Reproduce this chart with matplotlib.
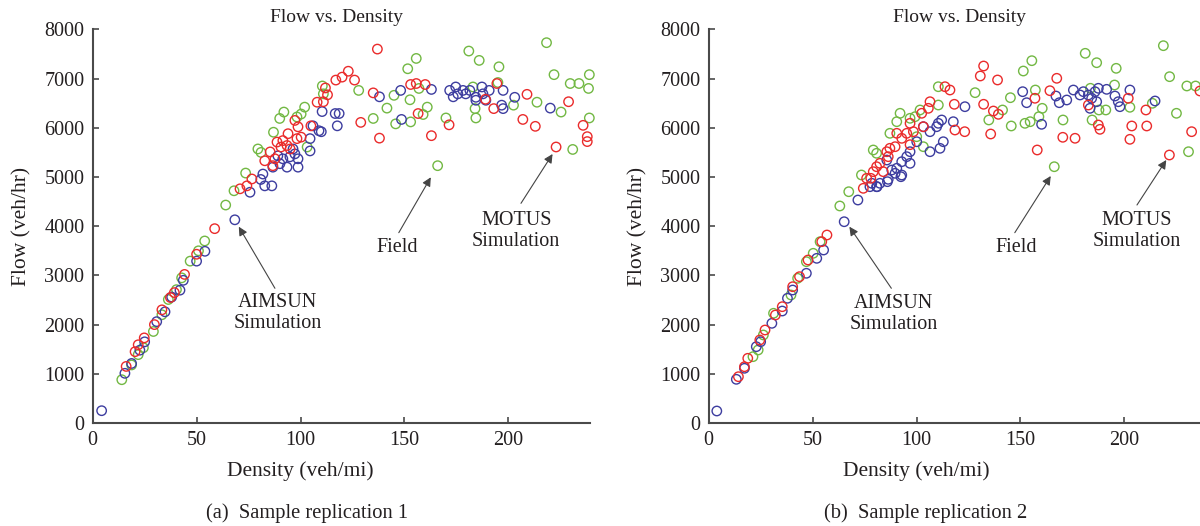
import matplotlib
matplotlib.use("Agg")
import matplotlib.pyplot as plt

plt.rcParams["font.family"] = ["Liberation Serif", "DejaVu Serif"]

# ---------------- data: panel (a) ----------------
field_x_a = [14, 18.7, 21.9, 24.4, 29.2, 33.3, 36.4, 40.3, 42.8, 46.9,
             50.9, 53.9, 64, 68, 73.6, 79.5, 81, 87, 90, 92,
             98.3, 100.3, 102, 103.2, 110.5, 111, 128, 135, 141.6, 145,
             145.8, 151.6, 152.7, 153, 155.7, 157, 159, 161, 166, 170,
             181, 183, 184, 184.4, 186, 195, 195.5, 202.5, 213.8, 218.4,
             222, 225.4, 229.8, 231, 234, 238.6, 239, 239]
field_y_a = [880, 1180, 1390, 1530, 1860, 2200, 2510, 2710, 2950, 3290,
             3500, 3700, 4430, 4720, 5080, 5570, 5500, 5910, 6190, 6320,
             6220, 6280, 6420, 5610, 6850, 6690, 6760, 6190, 6400, 6660,
             6080, 7200, 6570, 6120, 7410, 6800, 6270, 6420, 5230, 6200,
             7560, 6830, 6390, 6200, 7370, 6920, 7240, 6460, 6520, 7730,
             7080, 6320, 6900, 5560, 6900, 6800, 7080, 6200]

aimsun_x_a = [4.3, 15.5, 18.7, 22.7, 25, 30.8, 34.8, 38, 42, 43.6,
              50, 54, 68.4, 75.7, 80.9, 81.9, 82.8, 86.2, 86.7, 89.1,
              90.1, 91.5, 93.5, 94.9, 96.4, 97.3, 98.8, 98.8, 104.6, 104.6,
              106, 108.9, 110, 110.4, 116.7, 118.6, 117.7, 138, 148.2, 148.6,
              163, 171.8, 173.5, 174.7, 175.7, 178.2, 179.5, 181.5, 184.4, 184.4,
              187.3, 187.8, 189.2, 190.8, 196.8, 197.5, 197.5, 203.1, 220.2]
aimsun_y_a = [250, 1010, 1210, 1480, 1650, 2060, 2260, 2560, 2700, 2900,
              3290, 3490, 4130, 4690, 4950, 5060, 4820, 4820, 5200, 5430,
              5270, 5370, 5200, 5410, 5570, 5470, 5200, 5370, 5530, 5780,
              6040, 5940, 5920, 6330, 6290, 6290, 6040, 6630, 6760, 6170,
              6780, 6760, 6630, 6830, 6690, 6760, 6690, 6760, 6620, 6560,
              6830, 6690, 6560, 6760, 6460, 6760, 6390, 6620, 6400]

motus_x_a = [16.1, 20.4, 21.9, 24.8, 29.7, 33.3, 37.4, 39.3, 44.2, 50,
             58.7, 70.9, 74.2, 76.6, 82.8, 85.4, 86.7, 87.7, 88.7, 90.6,
             91.5, 93.5, 94, 95, 97.3, 98.3, 98.8, 100.3, 105, 108,
             111, 112, 113, 117, 120, 123, 126, 129, 135, 137,
             138, 153, 155.7, 156.6, 160, 163, 171.5, 189, 193, 194.5,
             207, 209, 213, 223, 229, 236, 238, 238]
motus_y_a = [1150, 1450, 1590, 1730, 2000, 2300, 2550, 2650, 3020, 3430,
             3950, 4760, 4820, 4960, 5330, 5510, 5230, 5370, 5710, 5610,
             5740, 5640, 5880, 5570, 6150, 5780, 6020, 5810, 6040, 6520,
             6530, 6810, 6670, 6970, 7030, 7150, 6970, 6110, 6710, 7600,
             5790, 6880, 6900, 6290, 6880, 5840, 6060, 6580, 6390, 6900,
             6170, 6680, 6030, 5610, 6530, 6050, 5820, 5720]

# ---------------- data: panel (b) ----------------
field_x_b = [21.3, 23.8, 26.3, 31.2, 39.6, 42.8, 47, 50.3, 53.6, 63.1,
             67.4, 73.5, 79.2, 80.8, 87.2, 90.5, 92.1, 96.9, 99.3, 100.1,
             101.7, 103.3, 110.5, 110.5, 128.2, 134.8, 141.4, 145.2, 145.6, 151.4,
             152.2, 154.7, 155.5, 157.2, 158.9, 160.5, 166.3, 170.5, 181.2, 183.7,
             184.5, 186.7, 187.8, 191.1, 195.3, 196.1, 202.7, 213.5, 218.8, 221.8,
             225.1, 230.1, 230.9, 234.3]
field_y_b = [1348, 1484, 1789, 2230, 2602, 2941, 3279, 3449, 3685, 4411,
             4701, 5041, 5549, 5482, 5888, 6124, 6295, 6193, 6226, 5819,
             6362, 5616, 6463, 6835, 6714, 6159, 6362, 6612, 6037, 7154,
             6091, 6124, 7364, 6768, 6226, 6396, 5209, 6159, 7514, 6803,
             6159, 7323, 6362, 6362, 6870, 7209, 6417, 6498, 7669, 7039,
             6295, 6850, 5514, 6850]

aimsun_x_b = [3.9, 13.3, 17.2, 22.9, 25, 30.4, 35.4, 37.9, 40.4, 47,
              52, 55.3, 65.2, 71.8, 77.6, 78.5, 80.8, 81, 82.4, 85.7,
              86, 86.4, 88.1, 89.7, 90.5, 92.5, 92.9, 92.9, 95.3, 96.9,
              96.9, 100.1, 103.3, 106.5, 106.5, 109.7, 110.5, 111.3, 112.1, 112.9,
              117.7, 123.3, 151.1, 153, 160.2, 167.1, 168.7, 172.3, 175.5, 178.7,
              180.3, 182.7, 183.5, 184.3, 185.9, 186.7, 187.5, 191.5, 195.5, 197.1,
              197.9, 202.7, 214.8]
aimsun_y_b = [244, 888, 1112, 1551, 1652, 2026, 2276, 2535, 2703, 3043,
              3347, 3516, 4091, 4532, 4803, 4872, 4803, 4803, 4872, 5345,
              4905, 4953, 5142, 5075, 5177, 5006, 5040, 5311, 5413, 5514,
              5278, 5717, 6022, 5921, 5514, 6022, 6091, 5583, 6159, 5717,
              6124, 6429, 6734, 6510, 6071, 6646, 6510, 6565, 6768, 6667,
              6734, 6667, 6396, 6600, 6734, 6530, 6803, 6782, 6646, 6530,
              6429, 6768, 6545]

motus_x_b = [14.3, 17.2, 18.8, 24.6, 27.1, 32.1, 35.4, 40.4, 43.7, 47.8,
             54.4, 56.9, 74.4, 76, 78, 79.2, 80.8, 82.4, 84, 85.7,
             86.4, 87.2, 89.7, 90.5, 92.9, 95.3, 96.9, 96.9, 98.5, 102.5,
             103.3, 105.7, 106.5, 113.7, 116.1, 118.2, 118.5, 123.2, 130.7, 132.3,
             132.3, 135.7, 137, 139, 139.4, 157, 158.1, 164.2, 167.5, 170.4,
             176.3, 182.7, 187.5, 188.3, 201.9, 202.7, 203.6, 210.4, 210.8, 221.7,
             232.4, 236.4]
motus_y_b = [941, 1144, 1315, 1687, 1890, 2195, 2364, 2770, 2974, 3313,
             3685, 3821, 4770, 4973, 4973, 5108, 5209, 5278, 5108, 5514,
             5413, 5583, 5616, 5888, 5786, 5888, 6091, 5657, 5921, 6295,
             6022, 6396, 6530, 6835, 6768, 6478, 5955, 5921, 7053, 7256,
             6478, 5874, 6341, 6972, 6274, 6600, 5549, 6754, 7006, 5807,
             5787, 6463, 6057, 5969, 6600, 5766, 6037, 6362, 6037, 5447,
             5921, 6748]

x_ticks = [0, 50, 100, 150, 200]
y_ticks = [0, 1000, 2000, 3000, 4000, 5000, 6000, 7000, 8000]

GREEN = "#72b843"
BLUE = "#3d3d9f"
RED = "#ea2b2b"
TEXT = "#231f20"
SPINE = "#4a4a4a"

fig = plt.figure(figsize=(12, 5.26), dpi=100)

ax_a = fig.add_axes([92.7 / 1200, 1 - 423 / 526, 239.5 * 2.078 / 1200, 393.6 / 526])
ax_b = fig.add_axes([708.7 / 1200, 1 - 423 / 526, 239.5 * 2.078 / 1200, 393.6 / 526])

panels = [
    (ax_a, field_x_a, field_y_a, aimsun_x_a, aimsun_y_a, motus_x_a, motus_y_a),
    (ax_b, field_x_b, field_y_b, aimsun_x_b, aimsun_y_b, motus_x_b, motus_y_b),
]

for ax, fx, fy, ax_x, ax_y, mx, my in panels:
    kw = dict(s=46, facecolors="none", linewidths=1.0, clip_on=False)
    ax.scatter(fx, fy, edgecolors=GREEN, zorder=3, **kw)
    ax.scatter(ax_x, ax_y, edgecolors=BLUE, zorder=4, **kw)
    ax.scatter(mx, my, edgecolors=RED, zorder=5, **kw)

    ax.set_xlim(0, 239.5)
    ax.set_ylim(0, 8000)
    ax.set_xticks(x_ticks)
    ax.set_yticks(y_ticks)
    for side in ("top", "right"):
        ax.spines[side].set_visible(False)
    for side in ("left", "bottom"):
        ax.spines[side].set_color(SPINE)
        ax.spines[side].set_linewidth(1.5)
    ax.tick_params(direction="in", length=4, width=1.2, color=SPINE,
                   labelsize=14.5, labelcolor=TEXT, pad=6)
    ax.set_xlabel("Density (veh/mi)", fontsize=15.5, color=TEXT)
    ax.set_ylabel("Flow (veh/hr)", fontsize=15.5, color=TEXT)
    ax.xaxis.set_label_coords(0.417, -0.097)
    ax.yaxis.set_label_coords(-0.124, 0.5)

arrow = dict(arrowstyle="-|>", color="#444444", lw=0.8,
             mutation_scale=13, shrinkA=0, shrinkB=0)

ax_a.text(0.489, 1.031, "Flow vs. Density", transform=ax_a.transAxes,
          ha="center", va="center", fontsize=14, color=TEXT)
ax_b.text(0.503, 1.031, "Flow vs. Density", transform=ax_b.transAxes,
          ha="center", va="center", fontsize=14, color=TEXT)

# annotations panel (a)
ax_a.annotate("", xy=(70.3, 3990), xytext=(87.7, 2738), arrowprops=arrow)
ax_a.text(89, 2230, "AIMSUN\nSimulation", ha="center", va="center",
          fontsize=14.5, color=TEXT, linespacing=1.15)
ax_a.annotate("", xy=(162.7, 4994), xytext=(147.3, 3868), arrowprops=arrow)
ax_a.text(146.5, 3571, "Field", ha="center", va="center", fontsize=14.5, color=TEXT)
ax_a.annotate("", xy=(221.3, 5467), xytext=(206.1, 4465), arrowprops=arrow)
ax_a.text(203.8, 3910, "MOTUS\nSimulation", ha="center", va="center",
          fontsize=14.5, color=TEXT, linespacing=1.15)

# annotations panel (b)
ax_b.annotate("", xy=(67.7, 3990), xytext=(87.9, 2738), arrowprops=arrow)
ax_b.text(89.1, 2212, "AIMSUN\nSimulation", ha="center", va="center",
          fontsize=14.5, color=TEXT, linespacing=1.15)
ax_b.annotate("", xy=(164.6, 5020), xytext=(147.3, 3868), arrowprops=arrow)
ax_b.text(148.1, 3571, "Field", ha="center", va="center", fontsize=14.5, color=TEXT)
ax_b.annotate("", xy=(220.2, 5345), xytext=(206.1, 4431), arrowprops=arrow)
ax_b.text(206, 3896, "MOTUS\nSimulation", ha="center", va="center",
          fontsize=14.5, color=TEXT, linespacing=1.15)

fig.text(307 / 1200, 1 - 513 / 526, "(a)  Sample replication 1", ha="center",
         va="center", fontsize=14.8, color=TEXT)
fig.text(926 / 1200, 1 - 513 / 526, "(b)  Sample replication 2", ha="center",
         va="center", fontsize=14.8, color=TEXT)

fig.savefig("out.png", dpi=100)
